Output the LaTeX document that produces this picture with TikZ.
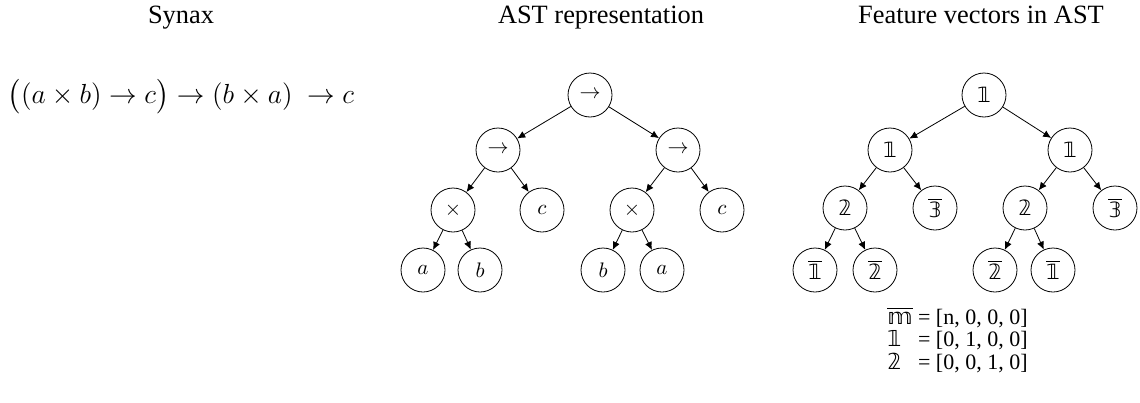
\RequirePackage{fix-cm}
\documentclass[tikz,border=0pt]{standalone}
\usepackage{fontspec}
\setmainfont{Liberation Serif}
\newfontfamily\dsfam{DejaVu Sans}
\usepackage{amsmath}
\usetikzlibrary{arrows.meta}

\newcommand\dsym[1]{\mbox{\dsfam #1}}
\newcommand\dbar[1]{\overline{\mbox{\dsfam #1}}}

\tikzset{
  treenode/.style={circle, draw, minimum size=22pt, inner sep=0pt, font=\fontsize{10.5}{12}\selectfont},
  treeedge/.style={-{Latex[length=4pt, width=3.6pt]}},
  heading/.style={font=\fontsize{13.2}{15}\selectfont, anchor=base},
}

\begin{document}
\begin{tikzpicture}[x=0.5pt, y=-0.5pt]
\useasboundingbox (0,0) rectangle (1140,402);

%headings
\node[heading] (hsyn) at (181,23) {Synax};
\node[heading] (hast) at (601,23) {AST representation};
\node[heading] (hfeat) at (981,23) {Feature vectors in AST};

%syntax
\node (formula) at (181,97) {\fontsize{13.8}{17}\selectfont $\bigl((a\times b)\to c\bigr)\to(b\times a)\ \to c$};

%AST tree
\node[treenode] (a) at (590,95) {$\to$};
\node[treenode] (al) at (498,150) {$\to$};
\node[treenode] (ar) at (678,150) {$\to$};
\node[treenode] (all) at (453,210) {$\times$};
\node[treenode] (alr) at (542,210) {$c$};
\node[treenode] (arl) at (632,210) {$\times$};
\node[treenode] (arr) at (722,210) {$c$};
\node[treenode] (alll) at (423,270) {$a$};
\node[treenode] (allr) at (480,270) {$b$};
\node[treenode] (arll) at (603,270) {$b$};
\node[treenode] (arlr) at (662,270) {$a$};

%feature tree
\node[treenode] (f) at (984,95) {$\dsym{𝟙}$};
\node[treenode] (fl) at (890,150) {$\dsym{𝟙}$};
\node[treenode] (fr) at (1070,150) {$\dsym{𝟙}$};
\node[treenode] (fll) at (845,208) {$\dsym{𝟚}$};
\node[treenode] (flr) at (935,208) {$\dbar{𝟛}$};
\node[treenode] (frl) at (1025,208) {$\dsym{𝟚}$};
\node[treenode] (frr) at (1115,208) {$\dbar{𝟛}$};
\node[treenode] (flll) at (815,270) {$\dbar{𝟙}$};
\node[treenode] (fllr) at (875,270) {$\dbar{𝟚}$};
\node[treenode] (frll) at (995,270) {$\dbar{𝟚}$};
\node[treenode] (frlr) at (1053,270) {$\dbar{𝟙}$};

%edges
\foreach \t in {a, f}
  \foreach \p/\c in {/l, /r, l/ll, l/lr, r/rl, r/rr, ll/lll, ll/llr, rl/rll, rl/rlr}
    \draw[treeedge] (\t\p) -- (\t\c);

%legend
\node[anchor=north west, inner sep=0pt, font=\fontsize{11}{11}\selectfont] (legend) at (887,307)
  {\begin{tabular}{@{}l@{ = }l@{}}
   $\dbar{𝕞}$ & [n, 0, 0, 0]\\
   $\dsym{𝟙}$ & [0, 1, 0, 0]\\
   $\dsym{𝟚}$ & [0, 0, 1, 0]
   \end{tabular}};
\end{tikzpicture}
\end{document}
